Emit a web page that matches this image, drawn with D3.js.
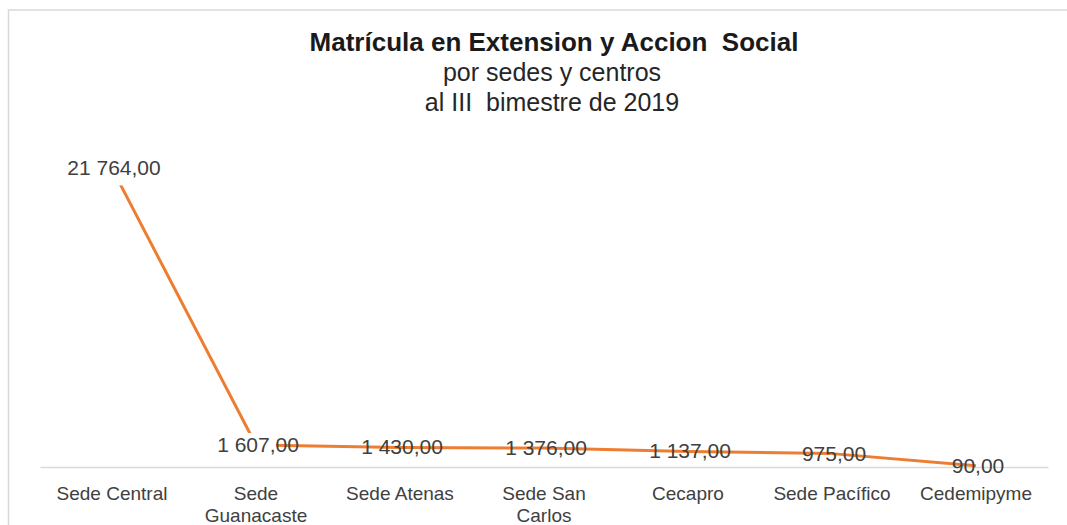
<!DOCTYPE html>
<html>
<head>
<meta charset="utf-8">
<script src="https://cdn.jsdelivr.net/npm/d3@7"></script>
<style>
  body { margin: 0; background: #fff; }
  svg { display: block; font-family: "Liberation Sans", Arial, sans-serif; }
  .cat-label { fill: #404040; font-size: 19px; }
  .val-label { fill: #404040; font-size: 21px; }
</style>
</head>
<body>
<div id="chart"></div>
<script>
// chart data
var categories = ['Sede Central', 'Sede Guanacaste', 'Sede Atenas', 'Sede San Carlos', 'Cecapro', 'Sede Pacífico', 'Cedemipyme'];
var values = [21764, 1607, 1430, 1376, 1137, 975, 90];
var titleLines = ['Matrícula en Extension y Accion  Social', 'por sedes y centros', 'al III  bimestre de 2019'];
var yMax = 25000;

var width = 1067, height = 525;
var margin = { top: 124, right: 19, bottom: 57, left: 40 };

var svg = d3.select('#chart')
  .append('svg')
  .attr('width', width)
  .attr('height', height);

// outer chart border
svg.append('rect')
  .attr('x', 8.5)
  .attr('y', 10)
  .attr('width', width + 20)
  .attr('height', height + 20)
  .attr('fill', 'none')
  .attr('stroke', '#d9d9d9')
  .attr('stroke-width', 1.5);

// titles
svg.append('text')
  .attr('x', 554)
  .attr('y', 51)
  .attr('text-anchor', 'middle')
  .attr('font-size', 26)
  .attr('font-weight', 'bold')
  .attr('fill', '#1a1a1a')
  .style('white-space', 'pre')
  .text(titleLines[0]);

svg.append('text')
  .attr('x', 552)
  .attr('y', 81)
  .attr('text-anchor', 'middle')
  .attr('font-size', 25)
  .attr('fill', '#262626')
  .text(titleLines[1]);

svg.append('text')
  .attr('x', 552)
  .attr('y', 111)
  .attr('text-anchor', 'middle')
  .attr('font-size', 25)
  .attr('fill', '#262626')
  .style('white-space', 'pre')
  .text(titleLines[2]);

// scales
var x = d3.scaleBand()
  .domain(categories)
  .range([margin.left, width - margin.right]);

var y = d3.scaleLinear()
  .domain([0, yMax])
  .range([height - margin.bottom - 1, margin.top]);

// x axis (line only, labels drawn below)
var xAxis = svg.append('g')
  .attr('transform', 'translate(0,' + y(0) + ')')
  .call(d3.axisBottom(x).tickSize(0).tickFormat(''));
xAxis.select('.domain')
  .attr('stroke', '#d9d9d9')
  .attr('stroke-width', 1.5);

// category labels, wrapped like excel
svg.selectAll('.cat-label')
  .data(categories)
  .enter().append('text')
  .attr('class', 'cat-label')
  .attr('text-anchor', 'middle')
  .attr('x', function(d) { return x(d) + x.bandwidth() / 2; })
  .attr('y', 500)
  .each(function(d) {
    var el = d3.select(this);
    var words = d.split(' ');
    var cx = x(d) + x.bandwidth() / 2;
    var line = [];
    var tspan = el.append('tspan').attr('x', cx).attr('dy', 0);
    words.forEach(function(w) {
      line.push(w);
      tspan.text(line.join(' '));
      if (tspan.node().getComputedTextLength() > 130 && line.length > 1) {
        line.pop();
        tspan.text(line.join(' '));
        line = [w];
        tspan = el.append('tspan').attr('x', cx).attr('dy', 22).text(w);
      }
    });
  });

var points = categories.map(function(c, i) {
  return { cat: c, value: values[i] };
});

// line series
var valueline = d3.line()
  .x(function(d) { return x(d.cat) + x.bandwidth() / 2; })
  .y(function(d) { return y(d.value); });

svg.append('path')
  .datum(points)
  .attr('fill', 'none')
  .attr('stroke', '#ed7d31')
  .attr('stroke-width', 3)
  .attr('stroke-linejoin', 'round')
  .attr('d', valueline);

// data labels (centered on the points)
var fmt = function(v) {
  var s = d3.format(',.2f')(v);
  return s.replace(/,/g, ' ').replace('.', ',');
};

var labels = svg.selectAll('.val-g')
  .data(points)
  .enter().append('g')
  .attr('class', 'val-g');

labels.append('text')
  .attr('class', 'val-label')
  .attr('text-anchor', 'middle')
  .attr('x', function(d) { return x(d.cat) + x.bandwidth() / 2 + 2; })
  .attr('y', function(d) { return y(d.value) + 7; })
  .text(function(d) { return fmt(d.value); });

// first two labels sit on an opaque box that hides the steep segment
labels.filter(function(d, i) { return i < 2; })
  .insert('rect', 'text')
  .each(function() {
    var bb = this.parentNode.querySelector('text').getBBox();
    d3.select(this)
      .attr('x', bb.x)
      .attr('y', bb.y)
      .attr('width', bb.width * 0.72)
      .attr('height', bb.height + 6)
      .attr('fill', '#fff');
  });
</script>
</body>
</html>
